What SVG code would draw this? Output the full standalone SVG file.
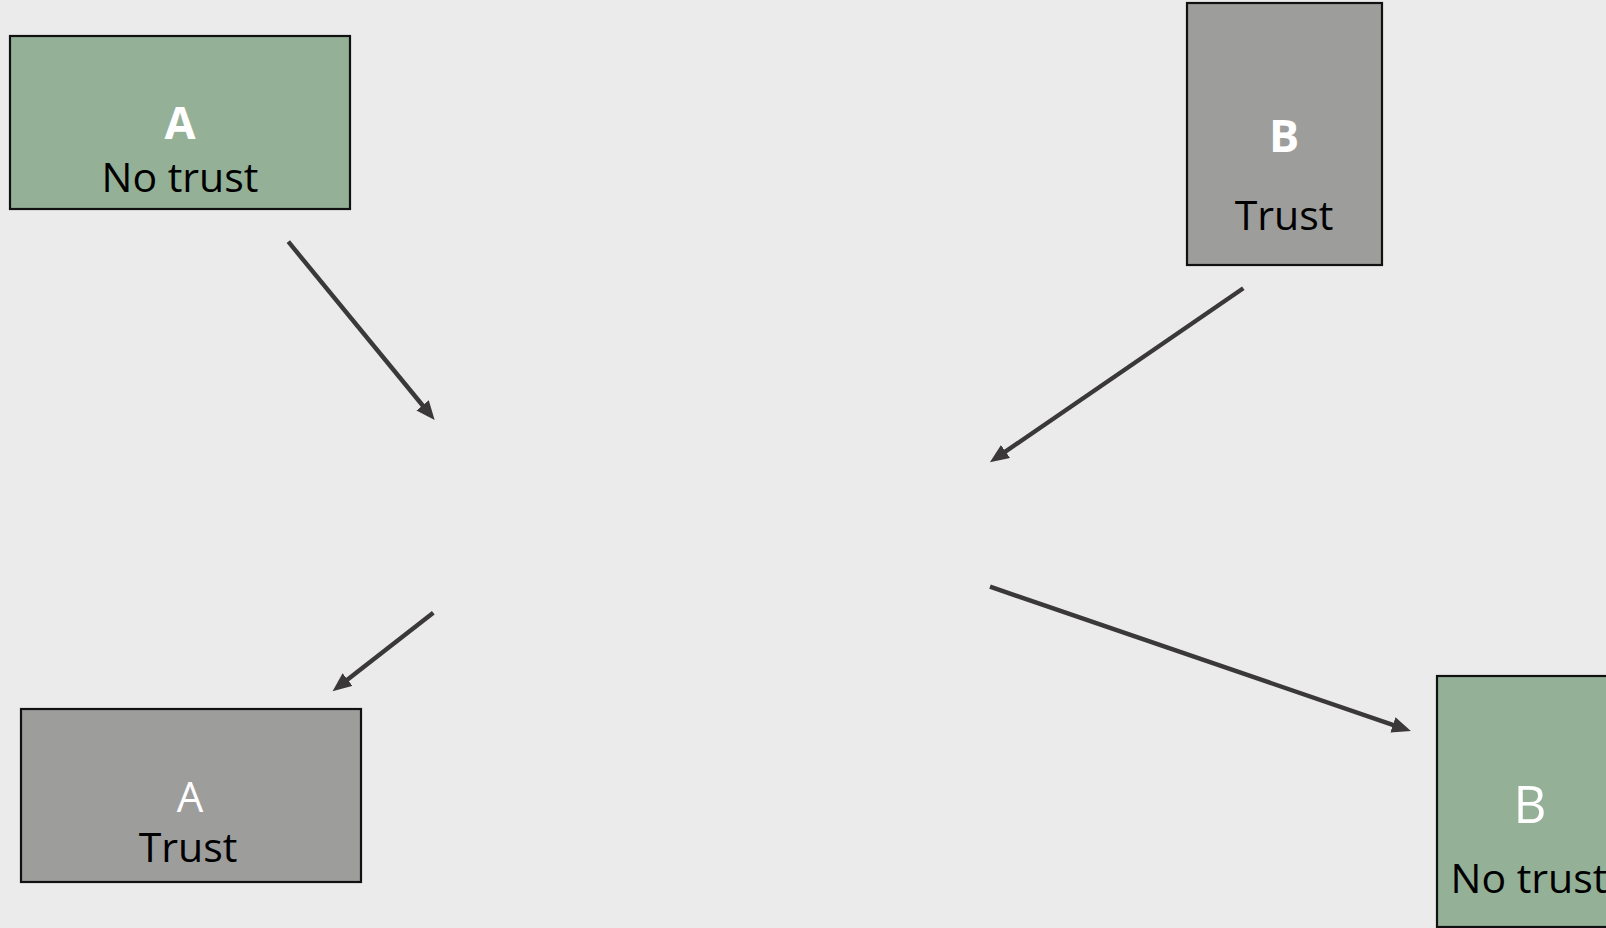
<svg xmlns="http://www.w3.org/2000/svg" width="1606" height="928" viewBox="0 0 1606 928">
  <style>
    .box { stroke: #111111; stroke-width: 2.2; }
    .green { fill: #94b096; }
    .grey { fill: #9d9d9c; }
    .lbl { font-family: "Open Sans", "Liberation Sans", sans-serif; text-anchor: middle; }
    .head { fill: #ffffff; font-size: 45px; }
    .bold { font-weight: bold; }
    .sub { fill: #000000; font-size: 41px; }
    .link { stroke: #3a3838; stroke-width: 4.4; fill: none; marker-end: url(#arrow); }
  </style>
  <defs>
    <marker id="arrow" markerUnits="userSpaceOnUse" markerWidth="22" markerHeight="18" refX="6" refY="8" orient="auto">
      <path d="M0,0 L19,8 L0,16 z" fill="#3a3838"/>
    </marker>
  </defs>

  <rect width="1606" height="928" fill="#ebebeb"/>

  <g id="a-no-trust">
    <rect class="box green" x="10" y="36" width="340" height="173"/>
    <text class="lbl head bold" x="180" y="139">A</text>
    <text class="lbl sub" x="180" y="192">No trust</text>
  </g>

  <g id="b-trust">
    <rect class="box grey" x="1187" y="3" width="195" height="262"/>
    <text class="lbl head bold" x="1284" y="152">B</text>
    <text class="lbl sub" x="1284" y="230">Trust</text>
  </g>

  <g id="a-trust">
    <rect class="box grey" x="21" y="709" width="340" height="173"/>
    <text class="lbl head" x="190" y="812" style="font-size:42px">A</text>
    <text class="lbl sub" x="188" y="862">Trust</text>
  </g>

  <g id="b-no-trust">
    <rect class="box green" x="1437" y="676" width="186" height="251"/>
    <text class="lbl head" x="1530" y="823" style="font-size:51px">B</text>
    <text class="lbl sub" x="1529" y="893">No trust</text>
  </g>

  <g id="connectors">
    <line class="link" x1="288.3" y1="241.7" x2="426.4" y2="410.0"/>
    <line class="link" x1="433.3" y1="612.7" x2="342.8" y2="683.3"/>
    <line class="link" x1="1243.3" y1="288.3" x2="1000.6" y2="454.9"/>
    <line class="link" x1="990" y1="586.7" x2="1398.6" y2="726.8"/>
  </g>
</svg>
